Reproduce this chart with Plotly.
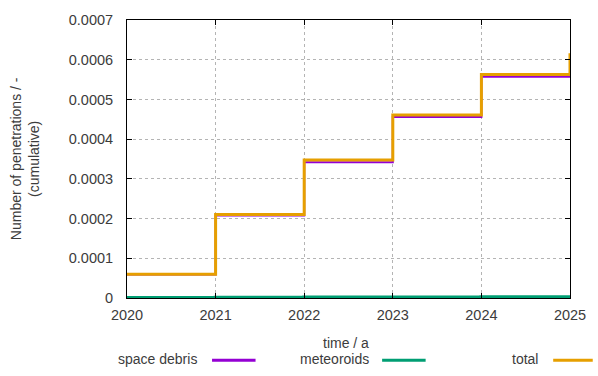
import plotly.graph_objects as go

# cumulative penetrations, one value per year (step plot, value holds until next year)
years = [2020, 2021, 2022, 2023, 2024, 2025]
space_debris = [0.0000590, 0.0002075, 0.0003420, 0.0004555, 0.0005570, 0.0006090]
meteoroids = [0.0000002, 0.0000005, 0.0000010, 0.0000015, 0.0000020, 0.0000025]
total = [0.0000600, 0.0002100, 0.0003475, 0.0004610, 0.0005630, 0.0006160]

y_ticks = [0, 0.0001, 0.0002, 0.0003, 0.0004, 0.0005, 0.0006, 0.0007]
y_tick_text = ["0", "0.0001", "0.0002", "0.0003", "0.0004", "0.0005", "0.0006", "0.0007"]
x_ticks = [2020, 2021, 2022, 2023, 2024, 2025]

series = [
    ("space debris", space_debris, "#9400D3", 2),
    ("meteoroids", meteoroids, "#009E73", 4),
    ("total", total, "#E69F00", 3),
]

W, H = 598, 376
L, R, T, B = 127, 23, 12, 78
PW, PH = W - L - R, H - T - B

FONT = "Liberation Sans, Arial, sans-serif"
TXT = "#3c3c3c"

fig = go.Figure()
for name, vals, color, width in series:
    fig.add_trace(go.Scatter(
        x=years, y=vals, mode="lines", name=name,
        line=dict(color=color, width=width, shape="hv"),
        showlegend=False,
    ))

axis_common = dict(
    showline=True, linecolor="black", linewidth=1, mirror="allticks",
    ticks="inside", ticklen=5, tickcolor="black", tickwidth=1,
    showgrid=True, gridcolor="#b4b4b4", griddash="dot", gridwidth=1,
    zeroline=False, tickfont=dict(family=FONT, size=14.5, color=TXT),
)

fig.update_xaxes(range=[2020, 2025], tickvals=x_ticks, ticktext=[str(v) for v in x_ticks],
                 ticklabelstandoff=4, **axis_common)
fig.update_yaxes(range=[0, 0.0007], tickvals=y_ticks, ticktext=y_tick_text,
                 ticklabelstandoff=10, **axis_common)


def px_x(p):
    return (p - L) / PW


def px_y(p):
    return 1 - (p - T) / PH


annotations = [
    dict(text="time / a", x=px_x(348), y=px_y(344), xref="paper", yref="paper",
         showarrow=False, font=dict(family=FONT, size=14, color=TXT), xanchor="center", yanchor="middle"),
    dict(text="Number of penetrations / -<br>(cumulative)", x=px_x(24), y=px_y(155),
         xref="paper", yref="paper", showarrow=False, textangle=-90,
         font=dict(family=FONT, size=14, color=TXT), xanchor="center", yanchor="middle"),
]

# legend row below the axis title: label text followed by a line sample
legend_layout = [(200, 213, 257), (374, 385, 429), (545, 558, 598)]
shapes = []
for (name, _, color, _w), (text_right, x0, x1) in zip(series, legend_layout):
    annotations.append(dict(text=name, x=px_x(text_right), y=px_y(361), xref="paper", yref="paper",
                            showarrow=False, xanchor="right", yanchor="middle",
                            font=dict(family=FONT, size=14, color=TXT)))
    shapes.append(dict(type="line", xref="paper", yref="paper",
                       x0=px_x(x0), x1=px_x(x1), y0=px_y(362), y1=px_y(362),
                       line=dict(color=color, width=3)))

fig.update_layout(
    width=W, height=H,
    margin=dict(l=L, r=R, t=T, b=B),
    paper_bgcolor="white", plot_bgcolor="white",
    annotations=annotations, shapes=shapes,
    showlegend=False,
)

fig.write_html("out.html")
